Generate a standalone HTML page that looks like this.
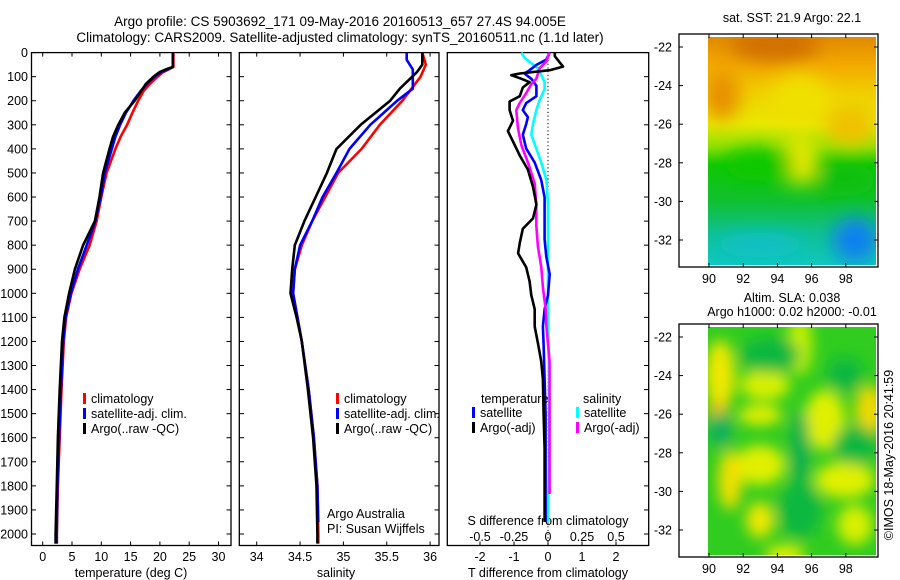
<!DOCTYPE html>
<html><head><meta charset="utf-8"><style>
body{margin:0;background:#fff;}
svg{display:block;font-family:"Liberation Sans",sans-serif;}
text{font-size:12.5px;fill:#000;}
</style></head><body>
<svg id="c" width="900" height="580" xmlns="http://www.w3.org/2000/svg">
<defs>
<filter id="bl" x="-20%" y="-20%" width="140%" height="140%"><feGaussianBlur stdDeviation="9"/></filter>
<filter id="bl2" x="-20%" y="-20%" width="140%" height="140%"><feGaussianBlur stdDeviation="7"/></filter>
<clipPath id="m1"><rect x="708" y="37" width="168" height="228"/></clipPath>
<clipPath id="m2"><rect x="708" y="327" width="168" height="228"/></clipPath>
<linearGradient id="sst" x1="0" y1="0" x2="0" y2="1">
<stop offset="0" stop-color="#e08a00"/><stop offset="0.12" stop-color="#f3a800"/><stop offset="0.25" stop-color="#f0d000"/><stop offset="0.38" stop-color="#e8e800"/><stop offset="0.48" stop-color="#90e000"/><stop offset="0.56" stop-color="#10c800"/><stop offset="0.72" stop-color="#10c030"/><stop offset="0.86" stop-color="#10c090"/><stop offset="1" stop-color="#10c8c0"/>
</linearGradient>
</defs>
<g id="titles">
<text x="340" y="26" text-anchor="middle" style="font-size:13.5px">Argo profile: CS 5903692_171 09-May-2016 20160513_657 27.4S 94.005E</text>
<text x="340" y="42" text-anchor="middle" style="font-size:13.5px">Climatology: CARS2009. Satellite-adjusted climatology: synTS_20160511.nc (1.1d later)</text>
</g>
<g id="p1"></g>
<g id="p2"></g>
<g id="p3"></g>
<g id="maps">
<g clip-path="url(#m1)">
<rect x="708" y="37" width="168" height="228" fill="url(#sst)"/>
<g filter="url(#bl)">
<ellipse cx="775" cy="45" rx="45" ry="16" fill="#d07000"/>
<ellipse cx="722" cy="95" rx="18" ry="25" fill="#e89000"/>
<ellipse cx="800" cy="100" rx="30" ry="25" fill="#f0e000"/>
<ellipse cx="850" cy="125" rx="25" ry="20" fill="#f0c000"/>
<ellipse cx="800" cy="160" rx="18" ry="25" fill="#e8e800"/>
<ellipse cx="760" cy="165" rx="35" ry="16" fill="#10c800"/>
<ellipse cx="845" cy="180" rx="30" ry="16" fill="#10c010"/>
<ellipse cx="855" cy="240" rx="22" ry="22" fill="#1080f0"/>
<ellipse cx="760" cy="245" rx="45" ry="12" fill="#10c0c8"/>
</g></g>
<g clip-path="url(#m2)">
<rect x="708" y="327" width="168" height="228" fill="#30cc20"/>
<g filter="url(#bl2)">
<ellipse cx="720" cy="375" rx="15" ry="35" fill="#f0e800"/>
<ellipse cx="718" cy="412" rx="10" ry="12" fill="#f8c000"/>
<ellipse cx="765" cy="385" rx="25" ry="15" fill="#d8f000"/>
<ellipse cx="800" cy="345" rx="12" ry="30" fill="#c8f000"/>
<ellipse cx="825" cy="420" rx="20" ry="30" fill="#e0f000"/>
<ellipse cx="870" cy="410" rx="15" ry="25" fill="#f0d800"/>
<ellipse cx="760" cy="465" rx="25" ry="20" fill="#e0f000"/>
<ellipse cx="730" cy="480" rx="12" ry="30" fill="#f0e000"/>
<ellipse cx="760" cy="520" rx="14" ry="18" fill="#f0e800"/>
<ellipse cx="845" cy="480" rx="30" ry="18" fill="#e0f000"/>
<ellipse cx="855" cy="525" rx="18" ry="20" fill="#d8f000"/>
<ellipse cx="785" cy="555" rx="20" ry="10" fill="#e8f000"/>
<ellipse cx="760" cy="415" rx="22" ry="10" fill="#e8f000"/>
<ellipse cx="770" cy="355" rx="30" ry="18" fill="#10b840"/>
<ellipse cx="845" cy="375" rx="18" ry="18" fill="#10b840"/>
<ellipse cx="720" cy="430" rx="12" ry="18" fill="#10b060"/>
<ellipse cx="800" cy="450" rx="10" ry="40" fill="#10b050"/>
<ellipse cx="855" cy="445" rx="22" ry="20" fill="#10b840"/>
<ellipse cx="800" cy="510" rx="22" ry="28" fill="#10b840"/>
</g></g>
<text x="792" y="22" text-anchor="middle">sat. SST: 21.9 Argo: 22.1</text>
<text x="792" y="302" text-anchor="middle">Altim. SLA: 0.038</text>
<text x="792" y="316" text-anchor="middle">Argo h1000: 0.02 h2000: -0.01</text>
<text transform="translate(893,455) rotate(-90)" text-anchor="middle">©IMOS 18-May-2016 20:41:59</text>
</g>
</svg>
<script>
// ---- data ----
const depthTicks=[0,100,200,300,400,500,600,700,800,900,1000,1100,1200,1300,1400,1500,1600,1700,1800,1900,2000];
const tempTicks=[0,5,10,15,20,25,30];
const salTicks=[34,34.5,35,35.5,36];
const tDiffTicks=[-2,-1,0,1,2];
const sDiffTicks=[-0.5,-0.25,0,0.25,0.5];
const sDiffTickLabels=["-0.5","-0.25","0","0.25","0.5"];
const lonTicks=[90,92,94,96,98];
const latTicks=[-22,-24,-26,-28,-30,-32];

const tArgoDepth=[0,60,70,80,100,130,160,200,250,300,350,400,500,600,700,800,900,1000,1100,1200,1400,1600,1800,2000,2040];
const tArgo=[22.2,22.2,21.0,20.0,18.9,17.6,16.8,15.7,14.0,12.9,12.0,11.4,10.3,9.7,8.9,6.9,5.5,4.5,3.7,3.3,2.9,2.6,2.4,2.2,2.2];
const tClimDepth=[0,60,70,80,100,130,160,200,250,300,350,400,500,600,700,800,900,1000,1100,1200,1400,1600,1800,2000,2040];
const tClim=[22.3,22.3,21.5,20.6,19.6,18.3,17.2,16.3,15.3,14.4,13.3,12.4,10.9,10.0,9.2,8.0,6.3,4.9,4.0,3.6,3.2,2.9,2.6,2.4,2.4];
const tSat=[22.2,22.2,21.3,20.3,19.1,17.8,16.7,15.5,14.2,13.2,12.4,11.8,10.6,9.9,9.0,7.5,6.0,4.8,3.9,3.5,3.1,2.8,2.5,2.4,2.4];

const sArgoDepth=[0,50,80,150,200,300,400,500,600,700,800,900,1000,1100,1200,1400,1600,1800,2000,2040];
const sArgo=[35.91,35.91,35.85,35.65,35.54,35.20,34.92,34.81,34.68,34.55,34.44,34.41,34.39,34.46,34.52,34.59,34.65,34.69,34.70,34.70];
const sClimDepth=[0,50,100,200,300,400,500,600,700,800,900,1000,1200,1400,1600,1800,2000,2040];
const sClim=[35.91,35.95,35.89,35.68,35.42,35.21,34.94,34.79,34.64,34.52,34.44,34.42,34.52,34.60,34.66,34.70,34.71,34.71];
const sSatDepth=[0,30,70,150,200,300,400,500,600,700,800,900,1000,1200,1400,1600,1800,1950];
const sSat=[35.73,35.73,35.80,35.80,35.62,35.31,35.07,34.92,34.76,34.64,34.50,34.44,34.42,34.52,34.60,34.66,34.70,34.71];

const dTArgoDepth=[0,15,58,73,87,94,109,123,145,181,203,239,283,326,384,428,486,558,631,689,732,790,834,892,950,1008,1066,1138,1211,1283,1356,1501,1646,1791,1950];
const dTArgo=[0.2,0.2,0.44,0.05,-0.83,-1.08,-0.78,-0.54,-0.74,-0.83,-1.13,-1.13,-1.03,-1.18,-0.98,-0.83,-0.59,-0.44,-0.34,-0.44,-0.74,-0.83,-0.88,-0.64,-0.54,-0.49,-0.39,-0.39,-0.29,-0.2,-0.15,-0.13,-0.1,-0.1,-0.1];
const dTSatDepth=[0,29,51,73,87,109,138,181,210,239,268,297,341,399,457,529,602,674,776,848,921,1008,1066,1138,1211,1356,1501,1646,1791,1950];
const dTSat=[0.05,-0.05,-0.34,-0.54,-0.69,-0.49,-0.34,-0.34,-0.64,-0.74,-0.59,-0.64,-0.74,-0.64,-0.39,-0.2,-0.1,-0.1,-0.1,-0.05,0.05,0,-0.1,-0.15,-0.13,-0.1,-0.07,-0.07,-0.07,-0.07];
const dSArgoDepth=[0,36,65,109,131,167,210,239,312,384,457,544,631,718,805,892,979,1066,1138,1283,1428,1646,1834];
const dSArgo=[0.012,-0.012,-0.061,-0.086,-0.123,-0.159,-0.208,-0.233,-0.221,-0.196,-0.147,-0.098,-0.086,-0.086,-0.074,-0.049,-0.037,-0.017,-0.012,0.012,0.012,0.012,0.012];
const dSSatDepth=[0,22,44,65,94,123,152,196,239,297,341,399,457,529,631,776,1066,1356,1646,1950];
const dSSat=[-0.196,-0.172,-0.123,-0.074,-0.049,-0.025,-0.025,-0.061,-0.086,-0.110,-0.123,-0.086,-0.049,-0.012,0,0,0,0.007,0.007,0];

// ---- axes ----
const NS="http://www.w3.org/2000/svg";
const TOP=52.6, BOT=545.5;
const yD=d=>TOP+d*0.2407;
const xT=t=>42.7+t*5.86;
const xS=s=>256.7+(s-34)*86.7;
const xDT=t=>548+t*34;
const xDS=s=>548+s*136;
const xLon=l=>709+(l-90)*17.1;
const yLat1=l=>47+(-22-l)*19.3;
const yLat2=l=>337+(-22-l)*19.3;

function mk(tag,attrs,parent,txt){const e=document.createElementNS(NS,tag);for(const k in attrs)e.setAttribute(k,attrs[k]);if(txt!==undefined)e.textContent=txt;parent.appendChild(e);return e;}

function box(g,x0,x1,y0,y1){
  const r=mk('rect',{x:x0,y:y0,width:x1-x0,height:y1-y0,fill:'none',stroke:'#000','stroke-width':1.3},g);
  
  
}
function line(g,xs,ds,xf,col,name){
  const pts=xs.map((v,i)=>xf(v).toFixed(1)+','+yD(ds[i]).toFixed(1)).join(' ');
  const p=mk('polyline',{points:pts,fill:'none',stroke:col,'stroke-width':2.6,'stroke-linejoin':'round'},g);
  
  
}
function legend(g,x,y,col,label,name){
  mk('rect',{x:x,y:y-10,width:3,height:11,fill:col},g);
  const t=mk('text',{x:x+8,y:y},g,label);
  
  
}

const root=document.getElementById('c');
depthTicks.forEach(d=>{
  const t=mk('text',{x:28,y:yD(d)+4.5,'text-anchor':'end'},root,String(d));
  
  
});

// panel 1
const p1=document.getElementById('p1');
box(p1,31.5,231,TOP,BOT);
depthTicks.forEach(d=>{mk('line',{x1:31.5,x2:36,y1:yD(d),y2:yD(d),stroke:'#000'},p1);mk('line',{x1:226.5,x2:231,y1:yD(d),y2:yD(d),stroke:'#000'},p1);});
tempTicks.forEach(t=>{
  mk('line',{x1:xT(t),x2:xT(t),y1:TOP,y2:TOP+4,stroke:'#000'},p1);
  mk('line',{x1:xT(t),x2:xT(t),y1:BOT,y2:BOT-4,stroke:'#000'},p1);
  const l=mk('text',{x:xT(t),y:561,'text-anchor':'middle'},p1,String(t));
  
  
});
mk('text',{x:131,y:577,'text-anchor':'middle',},p1,'temperature (deg C)');
line(p1,tClim,tClimDepth,xT,'#ff0000','temp-climatology-line');
line(p1,tSat,tClimDepth,xT,'#0000ff','temp-satellite-line');
line(p1,tArgo,tArgoDepth,xT,'#000000','temp-argo-line');
legend(p1,83,403,'#ff0000','climatology','legend-climatology');
legend(p1,83,418,'#0000ff','satellite-adj. clim.','legend-satellite');
legend(p1,83,433,'#000000','Argo(..raw -QC)','legend-argo');

// panel 2
const p2=document.getElementById('p2');
box(p2,239.3,439,TOP,BOT);
depthTicks.forEach(d=>{mk('line',{x1:239.3,x2:244,y1:yD(d),y2:yD(d),stroke:'#000'},p2);mk('line',{x1:434.5,x2:439,y1:yD(d),y2:yD(d),stroke:'#000'},p2);});
salTicks.forEach(s=>{
  mk('line',{x1:xS(s),x2:xS(s),y1:TOP,y2:TOP+4,stroke:'#000'},p2);
  mk('line',{x1:xS(s),x2:xS(s),y1:BOT,y2:BOT-4,stroke:'#000'},p2);
  const l=mk('text',{x:xS(s),y:561,'text-anchor':'middle'},p2,String(s));
  
  
});
mk('text',{x:336,y:577,'text-anchor':'middle',},p2,'salinity');
line(p2,sClim,sClimDepth,xS,'#ff0000','sal-climatology-line');
line(p2,sSat,sSatDepth,xS,'#0000ff','sal-satellite-line');
line(p2,sArgo,sArgoDepth,xS,'#000000','sal-argo-line');
legend(p2,336,403,'#ff0000','climatology','legend-climatology');
legend(p2,336,418,'#0000ff','satellite-adj. clim.','legend-satellite');
legend(p2,336,433,'#000000','Argo(..raw -QC)','legend-argo');
mk('text',{x:327,y:518,},p2,'Argo Australia');
mk('text',{x:327,y:533,},p2,'PI: Susan Wijffels');

// panel 3
const p3=document.getElementById('p3');
box(p3,447.3,648.7,TOP,BOT);
mk('line',{x1:xDT(0),x2:xDT(0),y1:TOP,y2:BOT,stroke:'#000','stroke-dasharray':'1.2,2.5'},p3);
depthTicks.forEach(d=>{mk('line',{x1:644,x2:648.7,y1:yD(d),y2:yD(d),stroke:'#000'},p3);});
tDiffTicks.forEach(t=>{
  mk('line',{x1:xDT(t),x2:xDT(t),y1:BOT,y2:BOT-4,stroke:'#000'},p3);
  const l=mk('text',{x:xDT(t),y:561,'text-anchor':'middle'},p3,String(t));
  
  
});
sDiffTicks.forEach((s,i)=>{
  const l=mk('text',{x:xDS(s),y:541,'text-anchor':'middle'},p3,sDiffTickLabels[i]);
  
  
});
mk('text',{x:548,y:525,'text-anchor':'middle',},p3,'S difference from climatology');
mk('text',{x:548,y:577,'text-anchor':'middle',},p3,'T difference from climatology');
line(p3,dSSat,dSSatDepth,xDS,'#00ffff','sdiff-satellite-line');
line(p3,dTSat,dTSatDepth,xDT,'#0000ff','tdiff-satellite-line');
line(p3,dSArgo,dSArgoDepth,xDS,'#ff00ff','sdiff-argo-line');
line(p3,dTArgo,dTArgoDepth,xDT,'#000000','tdiff-argo-line');
mk('text',{x:481,y:403,},p3,'temperature');
mk('text',{x:583,y:403,},p3,'salinity');
legend(p3,472,417,'#0000ff','satellite','legend-t-satellite');
legend(p3,472,432,'#000000','Argo(-adj)','legend-t-argo');
legend(p3,576,417,'#00ffff','satellite','legend-s-satellite');
legend(p3,576,432,'#ff00ff','Argo(-adj)','legend-s-argo');

// maps axes
const maps=document.getElementById('maps');
[[34,267,yLat1],[324,557,yLat2]].forEach(([y0,y1,yf])=>{
  box(maps,679,878,y0,y1);
  lonTicks.forEach(l=>{
    mk('line',{x1:xLon(l),x2:xLon(l),y1:y0,y2:y0+4,stroke:'#000'},maps);
    mk('line',{x1:xLon(l),x2:xLon(l),y1:y1,y2:y1-4,stroke:'#000'},maps);
    const t=mk('text',{x:xLon(l),y:y1+16,'text-anchor':'middle'},maps,String(l));
    
    
  });
  latTicks.forEach(l=>{
    mk('line',{x1:679,x2:683,y1:yf(l),y2:yf(l),stroke:'#000'},maps);
    mk('line',{x1:874,x2:878,y1:yf(l),y2:yf(l),stroke:'#000'},maps);
    const t=mk('text',{x:672,y:yf(l)+4.5,'text-anchor':'end'},maps,String(l));
    
    
  });
});
</script>
</body></html>
